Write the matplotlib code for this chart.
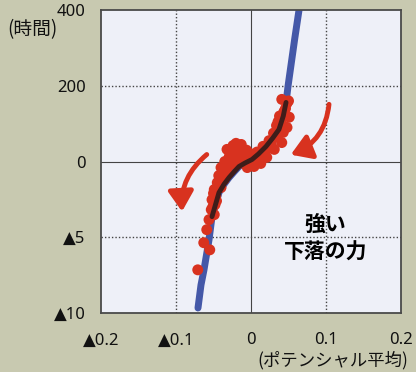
import numpy as np
import matplotlib
matplotlib.use("Agg")
import matplotlib.pyplot as plt

plt.rcParams['font.family'] = ['Noto Sans CJK JP', 'DejaVu Sans']

# fitted curve (x: potential average, y: hours; negative side uses a compressed scale)
curve_x = [-0.0707, -0.0667, -0.0627, -0.056, -0.052, -0.0427, -0.036, -0.0293,
           -0.022, -0.016, -0.008, 0.0013, 0.010, 0.020, 0.029, 0.0373,
           0.043, 0.0467, 0.0495, 0.0582, 0.064]
curve_y = [-9.67, -8.15, -7.15, -5.17, -3.64, -2.05, -1.5, -1.06,
           -0.65, -0.33, -0.1, 5.3, 20, 39.7, 62, 84.8,
           120, 156, 201, 323, 400]

# observed points
dots_x = [0.041, 0.048, 0.044, 0.051, 0.040, 0.048, 0.043, 0.035, 0.041, 0.027,
          0.031, 0.019, 0.021, 0.011, 0.013, 0.004, -0.005, -0.032, -0.024, -0.016,
          -0.011, -0.021, -0.029, -0.008, -0.019, -0.035, -0.027, -0.016, -0.003, 0.005,
          -0.040, -0.032, -0.043, -0.036, -0.045, -0.040, -0.049, -0.047, -0.052, -0.048,
          -0.053, -0.049, -0.056, -0.059, -0.063, -0.055, -0.071,
          -0.020, -0.013, -0.006, 0.000, 0.008, 0.016, 0.024, 0.030, 0.034, 0.038,
          0.046, 0.050, 0.036, -0.038, -0.044, -0.050, -0.046, -0.051, -0.033, -0.038]
dots_y = [164, 154, 132, 117, 106, 90, 77, 64, 50, 45,
          32, 26, 11, 13, -0.13, -0.33, -0.40, 32, 42, 37,
          26, 21, 13, 11, 5, 0, -0.20, -0.13, -0.07, 5,
          -0.40, -0.66, -0.93, -1.19, -1.39, -1.72, -1.85, -2.25, -2.52, -2.85,
          -3.18, -3.51, -3.84, -4.50, -5.36, -5.83, -7.15,
          48, 45, 30, 20, 25, 40, 55, 75, 95, 120,
          140, 160, 105, -1.0, -1.6, -2.1, -2.6, -3.0, -0.2, -0.5]

x_ticks = [-0.2, -0.1, 0, 0.1, 0.2]
x_labels = ['▲0.2', '▲0.1', '0', '0.1', '0.2']
y_ticks = [-10, -5, 0, 200, 400]
y_labels = ['▲10', '▲5', '0', '200', '400']

blue = '#4458a8'
red = '#d8321f'
dark = '#3e1d1a'


def fwd(y):
    y = np.asarray(y, dtype=float)
    return np.where(y > 0, y / 200.0, y / 5.0)


def inv(t):
    t = np.asarray(t, dtype=float)
    return np.where(t > 0, t * 200.0, t * 5.0)


fig = plt.figure(figsize=(4.16, 3.72), dpi=100, facecolor='#c8c9b0')
ax = fig.add_axes([0.2428, 0.1586, 0.7212, 0.8145])
ax.set_facecolor('#eef0f8')
ax.set_yscale('function', functions=(fwd, inv))
ax.set_xlim(-0.2, 0.2)
ax.set_ylim(-10, 400)

for gx in [-0.1, 0.1]:
    ax.axvline(gx, color='#444444', lw=1.0, ls=(0, (1, 1.5)), zorder=1)
for gy in [200, -5]:
    ax.axhline(gy, color='#444444', lw=1.0, ls=(0, (1, 1.5)), zorder=1)
ax.axvline(0, color='#444444', lw=0.8, zorder=1)
ax.axhline(0, color='#444444', lw=0.8, zorder=1)

ax.plot(curve_x, curve_y, color=blue, lw=5, solid_capstyle='round',
        solid_joinstyle='round', zorder=2)
ax.scatter(dots_x, dots_y, s=62, color=red, edgecolors='none', zorder=3)
ax.plot(curve_x[4:18], curve_y[4:18], color=dark, lw=3.5, solid_capstyle='round',
        solid_joinstyle='round', zorder=4)

arrow = dict(arrowstyle='-|>,head_length=0.6,head_width=0.38', color=red, lw=3.5,
             mutation_scale=20, shrinkA=0, shrinkB=0)
ax.annotate('', xy=(0.053, 18), xytext=(0.104, 151),
            arrowprops=dict(arrow, connectionstyle='arc3,rad=-0.3'), zorder=5)
ax.annotate('', xy=(-0.092, -3.3), xytext=(-0.059, 18.5),
            arrowprops=dict(arrow, connectionstyle='arc3,rad=0.25'), zorder=5)

ax.text(0.099, -4.17, '強い', ha='center', va='center', fontsize=15,
        fontweight='bold', color='black', zorder=6)
ax.text(0.099, -5.96, '下落の力', ha='center', va='center', fontsize=15,
        fontweight='bold', color='black', zorder=6)

ax.set_xticks(x_ticks)
ax.set_xticklabels(x_labels)
ax.set_yticks(y_ticks)
ax.set_yticklabels(y_labels)
ax.minorticks_off()
ax.tick_params(axis='both', length=0, labelsize=12, colors='#111111')
ax.tick_params(axis='x', pad=14)
ax.tick_params(axis='y', pad=11)
for lab in ax.get_xticklabels() + ax.get_yticklabels():
    lab.set_family(['Noto Sans', 'DejaVu Sans'])
for sp in ax.spines.values():
    sp.set_color('#4a4a4a')
    sp.set_linewidth(1.3)

fig.text(0.017, 0.92, '(時間)', ha='left', va='center', fontsize=13.5, color='#111111')
fig.text(0.982, 0.032, '(ポテンシャル平均)', ha='right', va='center', fontsize=12.5,
         color='#111111')

fig.savefig('out.png', dpi=100, facecolor=fig.get_facecolor())
